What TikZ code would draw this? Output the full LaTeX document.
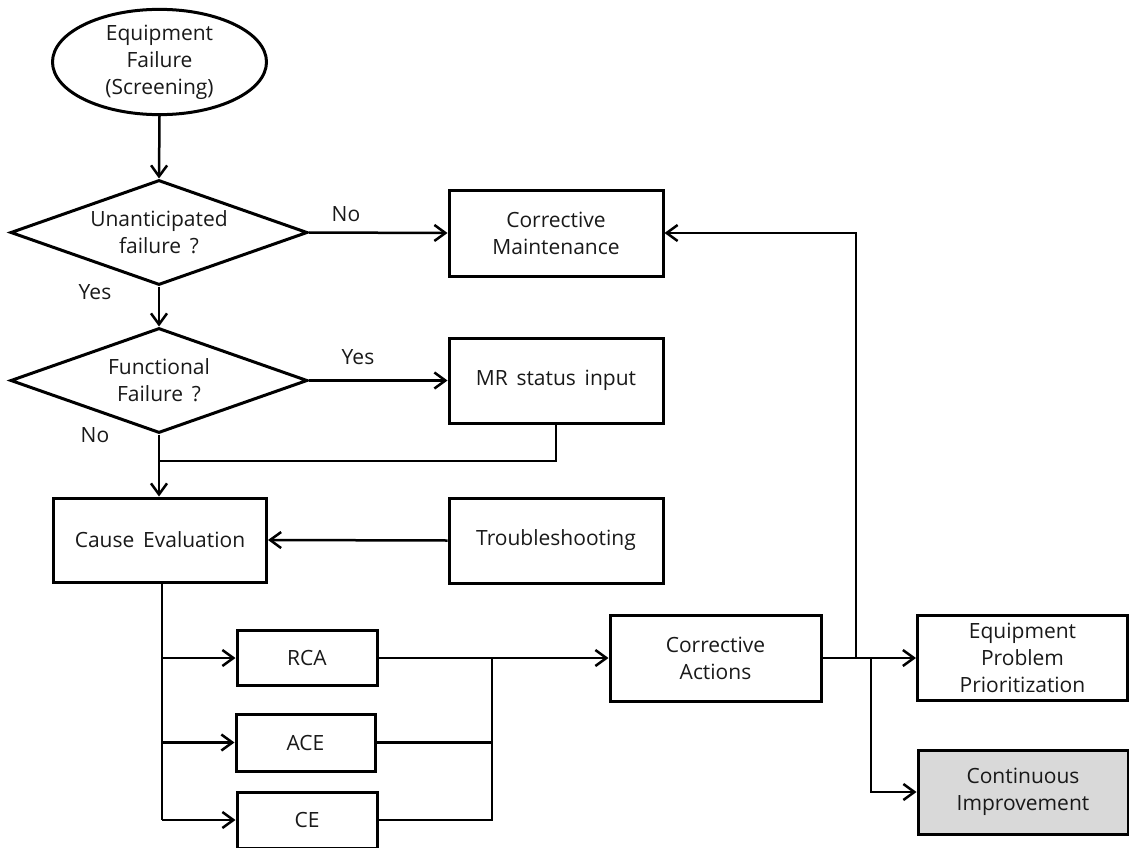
\documentclass[tikz,border=0pt]{standalone}
\usepackage{fontspec}
\setmainfont[WordSpace=1.6]{Open Sans}
\usetikzlibrary{shapes.geometric,arrows.meta}
\begin{document}
\begin{tikzpicture}[x=1pt,y=-1pt,
  every node/.style={font=\fontsize{21}{27}\selectfont, text=black!90, align=center, inner sep=0pt},
  box/.style={draw=black, line width=3pt, rectangle},
  dec/.style={draw=black, line width=3pt, diamond, aspect=2.8, minimum width=297pt, minimum height=105pt},
  term/.style={draw=black, line width=3pt, ellipse, minimum width=214pt, minimum height=104pt},
  conn/.style={draw=black, line width=2.5pt},
  arr/.style={conn, -{Straight Barb[length=11pt,width=16pt,line width=2.5pt]}},
  lbl/.style={font=\fontsize{21}{27}\selectfont}
]
\useasboundingbox (0,0) rectangle (1129,848);

\node[term] (start) at (159.5,62) {Equipment\\Failure\\(Screening)};
\node[dec] (d1) at (159,232.5) {Unanticipated\\failure ?};
\node[dec] (d2) at (159,380.5) {Functional\\Failure ?};

\node[box, minimum width=214pt, minimum height=86pt] (cm) at (556,233) {Corrective\\Maintenance};
\node[box, minimum width=214pt, minimum height=85pt] (mr) at (556,380.5) {MR status input};
\node[box, minimum width=213pt, minimum height=84pt] (ce) at (160,540) {Cause Evaluation};
\node[box, minimum width=214pt, minimum height=85pt] (ts) at (556,540.5) {Troubleshooting};

\node[box, minimum width=140pt, minimum height=55pt] (rca) at (307,658) {RCA};
\node[box, minimum width=139pt, minimum height=57pt] (ace) at (305.5,742.5) {ACE};
\node[box, minimum width=140pt, minimum height=56pt] (cee) at (307,820) {CE};

\node[box, minimum width=211pt, minimum height=86pt] (ca) at (715.5,658) {Corrective\\Actions};
\node[box, minimum width=210pt, minimum height=85pt] (epp) at (1022.5,658) {Equipment\\Problem\\Prioritization};
\node[box, fill=black!15, minimum width=210pt, minimum height=84pt] (ci) at (1023,792) {Continuous\\Improvement};

\node[lbl] (lno1) at (346,214) {No};
\node[lbl] (lyes1) at (95,292) {Yes};
\node[lbl] (lyes2) at (358,357) {Yes};
\node[lbl] (lno2) at (95,435) {No};

\coordinate (j1) at (159,461);
\coordinate (spine) at (162,0);
\coordinate (merge) at (492,0);
\coordinate (up) at (856,0);
\coordinate (br) at (871,0);

\draw[arr] (start.south) -- (d1.north);
\draw[arr] (d1.east) -- (cm.west);
\draw[arr] (d1.south) -- (d2.north);
\draw[arr] (d2.east) -- (mr.west);
\draw[arr] (d2.south) -- (d2.south |- ce.north);
\draw[conn] (mr.south) |- (j1);
\draw[arr] (ts.west) -- (ce.east);

\draw[conn] (spine |- ce.south) -- (spine |- cee.west);
\draw[arr] (spine |- rca.west) -- (rca.west);
\draw[arr] (spine |- ace.west) -- (ace.west);
\draw[arr] (spine |- cee.west) -- (cee.west);

\draw[arr] (rca.east) -- (ca.west);
\draw[conn] (ace.east) -- (merge |- ace.east);
\draw[conn] (cee.east) -| (merge |- rca.east);

\draw[arr] (ca.east) -- (epp.west);
\draw[arr] (up |- ca.east) |- (cm.east);
\draw[arr] (br |- ca.east) |- (ci.west);
\end{tikzpicture}
\end{document}
